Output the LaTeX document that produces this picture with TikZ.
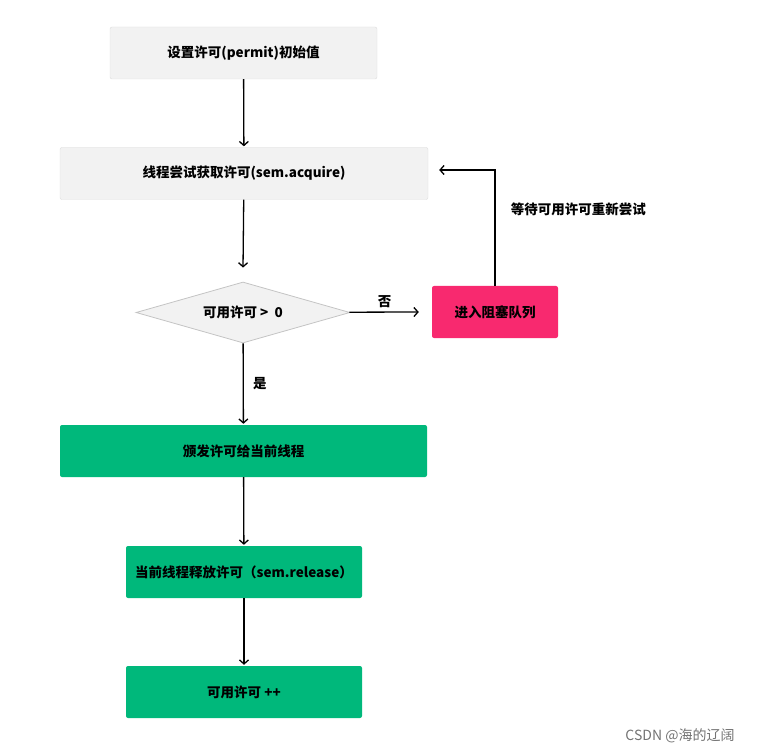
\documentclass[tikz,border=0pt]{standalone}
\usepackage{fontspec}
\setsansfont{Noto Sans CJK SC}
\usetikzlibrary{shapes.geometric, arrows.meta}
\definecolor{boxgray}{HTML}{F2F2F2}
\definecolor{linegray}{HTML}{DCDCDC}
\definecolor{edgegray}{HTML}{C4C4C4}
\definecolor{blockpink}{HTML}{F8296F}
\definecolor{okgreen}{HTML}{00B87B}
\begin{document}
\begin{tikzpicture}[x=1pt,y=-1pt,
    every node/.style={font=\sffamily\bfseries\fontsize{13.5}{16}\selectfont, text=black},
    graybox/.style={draw=linegray, fill=boxgray, rounded corners=2pt, minimum height=52pt},
    greenbox/.style={fill=okgreen, rounded corners=2pt, minimum height=52pt},
    pinkbox/.style={fill=blockpink, rounded corners=2pt, minimum width=126pt, minimum height=52pt},
    decision/.style={diamond, draw=edgegray, line width=0.8pt, fill=boxgray, aspect=3.5, minimum width=214pt, minimum height=61pt, inner sep=0pt},
    flow/.style={-{Straight Barb[length=4pt,width=9pt]}, line width=1.3pt, shorten >=1pt}]
    \useasboundingbox (0,0) rectangle (777,754);

    \node[graybox, minimum width=267pt] (init) at (243.5, 53) {设置许可(permit)初始值};
    \node[graybox, minimum width=368pt] (try) at (244, 173.5) {线程尝试获取许可(sem.acquire)};
    \node[decision] (check) at (243, 312.5) {可用许可 > \ 0};
    \node[pinkbox] (block) at (495, 312) {进入阻塞队列};
    \node[greenbox, minimum width=367pt] (grant) at (243.5, 451) {颁发许可给当前线程};
    \node[greenbox, minimum width=236pt] (release) at (244, 572) {当前线程释放许可（sem.release）};
    \node[greenbox, minimum width=236pt] (inc) at (244, 692) {可用许可 ++};

    \draw [flow] (init) -- (try);
    \draw [flow] (try) -- ([yshift=13pt]check.north);
    \draw [flow] (check) -- node[anchor=south] {否} ([xshift=-12pt]block.west);
    \draw [flow] (check) -- node[anchor=west, xshift=6pt] {是} (grant);
    \draw [flow] (block.north) |- node[pos=0.33, anchor=west, xshift=12pt] {等待可用许可重新尝试} ([xshift=10pt, yshift=3.5pt]try.east);
    \draw [flow] (grant) -- (release);
    \draw [flow] (release) -- (inc);

    \node[font=\sffamily\fontsize{14}{16}\selectfont, text=black!55] (mark) at (680, 736) {CSDN @海的辽阔};
\end{tikzpicture}
\end{document}
